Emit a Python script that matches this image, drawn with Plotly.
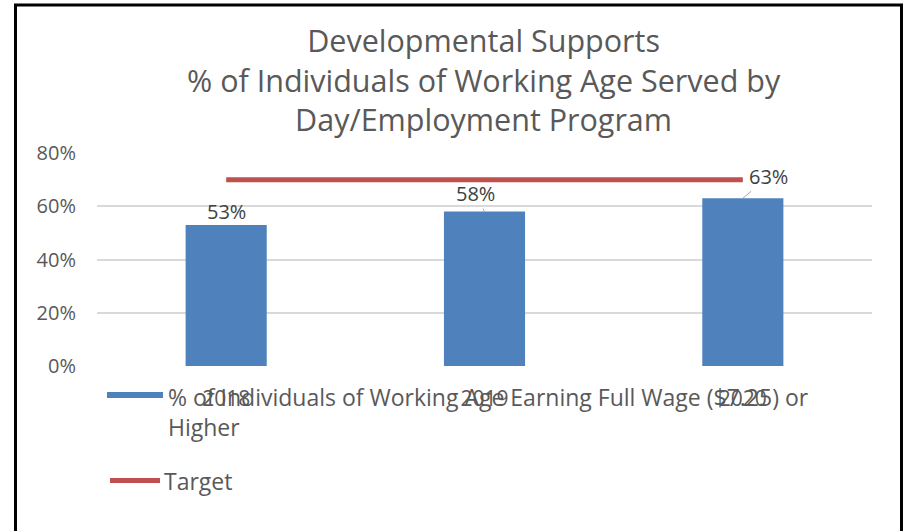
import plotly.graph_objects as go

# Chart data
years = ["2018", "2019", "2020"]
pct_full_wage = [0.53, 0.58, 0.63]
target = [0.70, 0.70, 0.70]
value_labels = ["53%", "58%", "63%"]
y_ticks = [0, 0.2, 0.4, 0.6, 0.8]

series_name = "% of Individuals of Working Age Earning Full Wage ($7.25) or<br>Higher"
target_name = "Target"
title_text = ("Developmental Supports<br>% of Individuals of Working Age Served by"
              "<br>Day/Employment Program")

W, H = 905, 531
M_L, M_R, M_T, M_B = 97, 33, 153, 165
PLOT_W = W - M_L - M_R
PLOT_H = H - M_T - M_B

FONT = "Open Sans"
GREY = "#595959"
DARK = "#404040"
BLUE = "#4F81BD"
RED = "#C0504D"


def px_x(px):
    return (px - M_L) / PLOT_W


def px_y(py):
    return (H - M_B - py) / PLOT_H


fig = go.Figure()

fig.add_trace(go.Bar(
    x=years, y=pct_full_wage, name=series_name,
    marker=dict(color=BLUE, line=dict(width=0)),
    width=0.314, showlegend=False,
))
fig.add_trace(go.Scatter(
    x=years, y=target, name=target_name, mode="lines",
    line=dict(color=RED, width=5), showlegend=False,
))

# value labels (with leader lines where the label is offset);
# annotations on a category axis take the category's serial index
label_offsets = [(0, -13, False), (-9, -18, True), (26, -22, True)]
for i, (v, txt, (ax, ay, arrow)) in enumerate(zip(pct_full_wage, value_labels, label_offsets)):
    fig.add_annotation(
        x=i, y=v, text=txt, showarrow=True, arrowhead=0,
        arrowwidth=1, arrowcolor="#A6A6A6" if arrow else "rgba(0,0,0,0)",
        ax=ax, ay=ay, font=dict(family=FONT, size=20, color=DARK),
    )

# three-line chart title
fig.add_annotation(xref="paper", yref="paper", x=px_x(484), y=px_y(80),
                   xanchor="center", yanchor="middle", align="center",
                   text=title_text, showarrow=False,
                   font=dict(family=FONT, size=30.5, color=GREY))

# legend drawn beneath the plot
fig.add_shape(type="rect", xref="paper", yref="paper",
              x0=px_x(107), x1=px_x(163), y0=px_y(392), y1=px_y(398),
              fillcolor=BLUE, line=dict(width=0))
fig.add_annotation(xref="paper", yref="paper", x=px_x(166), y=px_y(412),
                   xanchor="left", yanchor="middle", align="left",
                   text=series_name, showarrow=False,
                   font=dict(family=FONT, size=23, color=GREY))
fig.add_shape(type="line", xref="paper", yref="paper",
              x0=px_x(110), x1=px_x(160), y0=px_y(480.5), y1=px_y(480.5),
              line=dict(color=RED, width=5))
fig.add_annotation(xref="paper", yref="paper", x=px_x(162), y=px_y(481),
                   xanchor="left", yanchor="middle",
                   text=target_name, showarrow=False,
                   font=dict(family=FONT, size=23, color=GREY))

# outer chart frame
fig.add_shape(type="rect", xref="paper", yref="paper",
              x0=px_x(15.5), x1=px_x(901.5), y0=px_y(560), y1=px_y(5),
              line=dict(color="black", width=3), fillcolor="rgba(0,0,0,0)")

fig.update_layout(
    width=W, height=H,
    margin=dict(l=M_L, r=M_R, t=M_T, b=M_B),
    paper_bgcolor="white", plot_bgcolor="white",
    font=dict(family=FONT, color=GREY),
    bargap=0.686,
)
fig.update_yaxes(range=[0, 0.8], tickvals=y_ticks, tickformat=".0%",
                 showgrid=True, gridcolor="#D9D9D9", gridwidth=1.5,
                 zeroline=False, showline=False, ticks="",
                 ticklabelstandoff=20,
                 tickfont=dict(family=FONT, size=20, color=GREY))
fig.update_xaxes(type="category", range=[-0.5, 2.5],
                 showgrid=False, showline=False, ticks="",
                 ticklabelstandoff=18,
                 tickfont=dict(family=FONT, size=21, color=GREY))

fig.write_html("out.html")
